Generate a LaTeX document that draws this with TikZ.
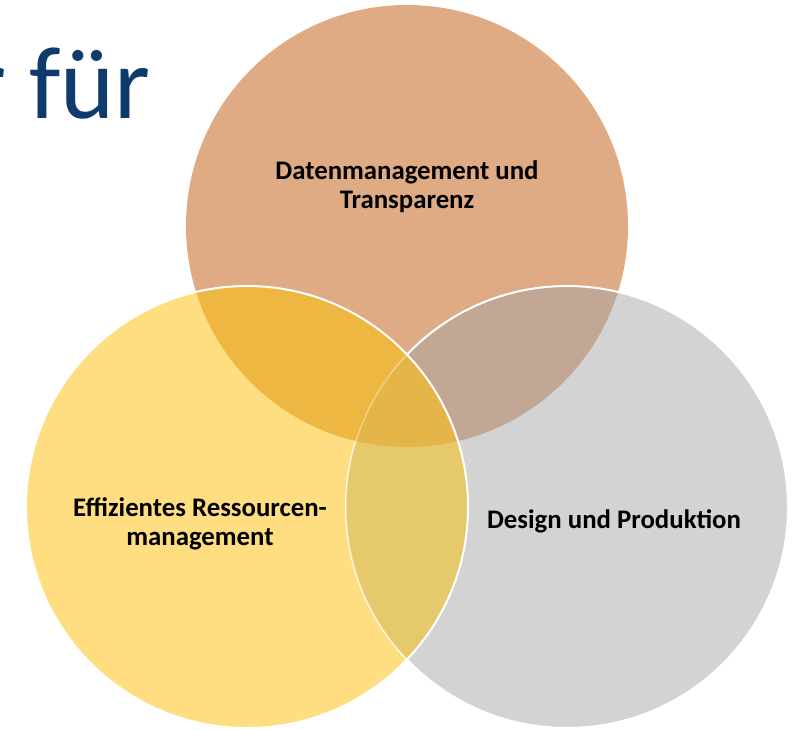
\documentclass[tikz,border=0pt]{standalone}
\usepackage{fontspec}
\setmainfont{Carlito}
\definecolor{orangec}{HTML}{DFAB84}
\definecolor{grayc}{HTML}{D3D3D3}
\definecolor{yellowc}{HTML}{FEDE80}
\definecolor{ogc}{HTML}{C1A794}
\definecolor{oyc}{HTML}{EDB742}
\definecolor{ygc}{HTML}{E6C96A}
\definecolor{oygc}{HTML}{E4B548}
\definecolor{titlec}{HTML}{0F3B6C}
\tikzset{
  vennc/.style={circle, minimum size=442pt, inner sep=0pt, draw=none},
  rim/.style={draw=white, line width=2pt},
  lbl/.style={align=center, font=\fontsize{26.8}{29}\selectfont\bfseries, text=black, inner sep=0pt},
}
\begin{document}
\begin{tikzpicture}[x=1pt,y=-1pt]
\useasboundingbox (0,0) rectangle (794,729);
\clip (0,0) rectangle (794,729);
\def\R{221pt}
\coordinate (ctop) at (407,226);
\coordinate (cleft) at (247,507);
\coordinate (cright) at (567,507);
% title fragment
\node[anchor=base east, inner sep=0pt, text=titlec, font=\fontsize{103}{105}\selectfont] (title) at (151,118) {r für};
% circles
\node[vennc, fill=orangec] (top) at (ctop) {};
\node[vennc, fill=grayc] (right) at (cright) {};
\node[vennc, fill=yellowc] (left) at (cleft) {};
% orange & gray overlap
\begin{scope}
  \clip (ctop) circle[radius=\R];
  \fill[ogc] (cright) circle[radius=\R];
\end{scope}
\draw[rim] (cright) circle[radius=\R];
% overlaps with yellow
\begin{scope}
  \clip (cleft) circle[radius=\R];
  \fill[oyc] (ctop) circle[radius=\R];
  \fill[ygc] (cright) circle[radius=\R];
  \begin{scope}
    \clip (ctop) circle[radius=\R];
    \fill[oygc] (cright) circle[radius=\R];
  \end{scope}
  \draw[draw=white, line width=1.5pt, opacity=0.35] (cright) circle[radius=\R];
\end{scope}
\draw[rim] (cleft) circle[radius=\R];
% labels
\node[lbl] (ltop) at (407,187) {Datenmanagement und\\Transparenz};
\node[lbl] (lleft) at (200,524) {Effizientes Ressourcen-\\management};
\node[lbl] (lright) at (614,521) {Design und Produktion};
\end{tikzpicture}
\end{document}
